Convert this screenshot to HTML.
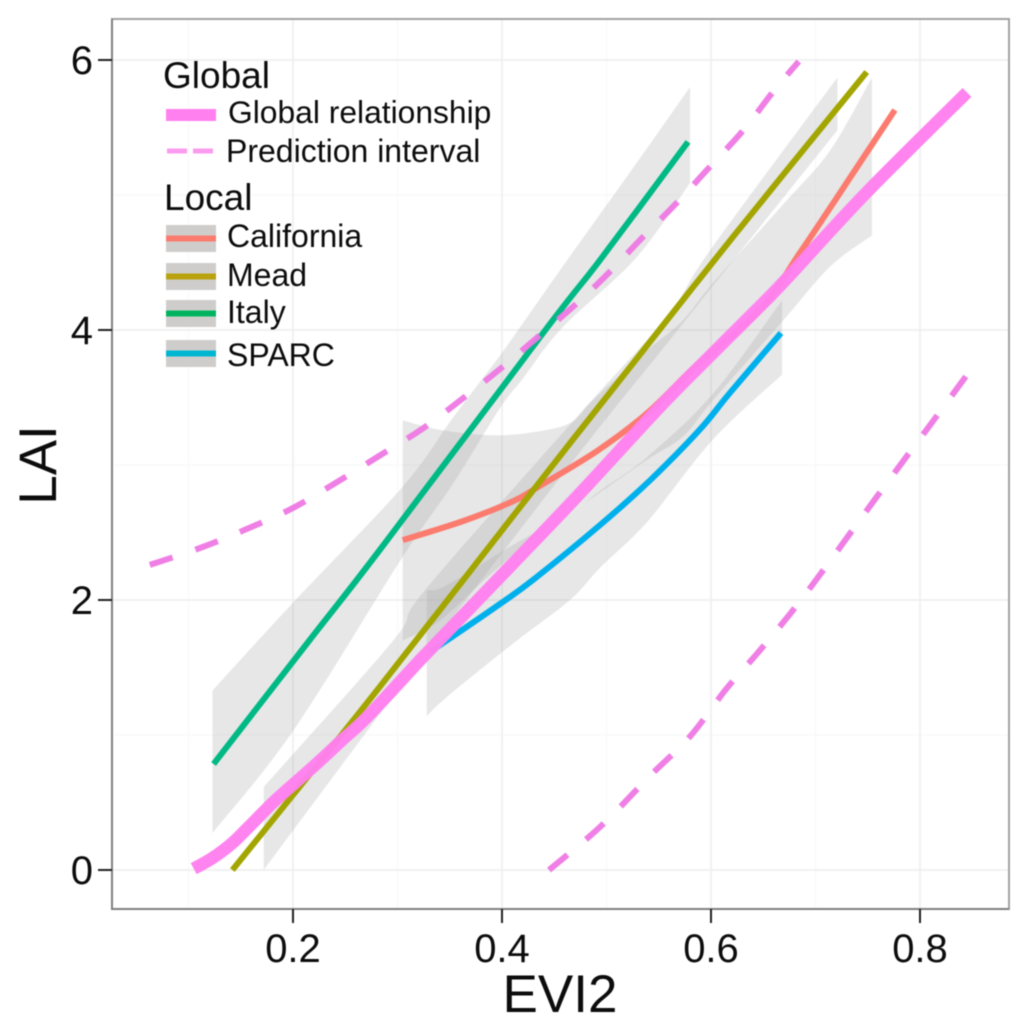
<!DOCTYPE html>
<html>
<head>
<meta charset="utf-8">
<title>LAI vs EVI2</title>
<style>
html,body{margin:0;padding:0;background:#fff;width:1024px;height:1031px;overflow:hidden}
svg{display:block;filter:blur(0.6px)}
text{font-family:"Liberation Sans",Arial,sans-serif;fill:#0c0c0c}
</style>
</head>
<body>
<svg id="chart" xmlns="http://www.w3.org/2000/svg" width="1024" height="1031" viewBox="0 0 1024 1031"></svg>
<script>
const xMajorTicks = [0.2, 0.4, 0.6, 0.8];
const xMinorTicks = [0.1, 0.3, 0.5, 0.7];
const yMajorTicks = [0, 2, 4, 6];
const yMinorTicks = [1, 3, 5];
const xTickLabels = ['0.2', '0.4', '0.6', '0.8'];
const yTickLabels = ['0', '2', '4', '6'];

const globalX = [0.105, 0.123, 0.143, 0.159, 0.181, 0.204, 0.223, 0.248, 0.271, 0.319, 0.328, 0.411, 0.475, 0.551, 0.602, 0.650, 0.673, 0.749, 0.845];
const globalY = [0.01, 0.089, 0.207, 0.33, 0.50, 0.66, 0.79, 0.97, 1.133, 1.533, 1.607, 2.274, 2.793, 3.43, 3.83, 4.2, 4.385, 5.02, 5.76];

const upperX = [0.063, 0.111, 0.154, 0.197, 0.235, 0.283, 0.324, 0.362, 0.398, 0.433, 0.472, 0.503, 0.535, 0.567, 0.599, 0.631, 0.659, 0.684];
const upperY = [2.26, 2.385, 2.52, 2.67, 2.84, 3.07, 3.27, 3.49, 3.71, 3.94, 4.2, 4.43, 4.69, 4.94, 5.21, 5.48, 5.76, 5.99];
const lowerX = [0.445, 0.494, 0.542, 0.58, 0.615, 0.645, 0.676, 0.704, 0.762, 0.81, 0.85];
const lowerY = [0, 0.32, 0.70, 0.99, 1.345, 1.61, 1.90, 2.185, 2.80, 3.3, 3.72];

const meadX = [0.142, 0.2, 0.283, 0.43, 0.5, 0.621, 0.749];
const meadY = [0, 0.556, 1.356, 2.815, 3.504, 4.689, 5.911];
const italyX = [0.124, 0.216, 0.283, 0.443, 0.494, 0.578];
const italyY = [0.785, 1.704, 2.37, 4.015, 4.52, 5.393];
const californiaX = [0.305, 0.363, 0.411, 0.433, 0.491, 0.539, 0.589, 0.647, 0.685, 0.717, 0.776];
const californiaY = [2.444, 2.585, 2.733, 2.83, 3.104, 3.385, 3.76, 4.15, 4.57, 4.94, 5.63];
const sparcX = [0.331, 0.398, 0.4316, 0.494, 0.542, 0.589, 0.618, 0.667];
const sparcY = [1.615, 1.97, 2.16, 2.556, 2.889, 3.26, 3.533, 3.978];

const italyBandX = [0.123, 0.2, 0.305, 0.353, 0.398, 0.42, 0.458, 0.529, 0.58];
const italyBandUpper = [1.33, 1.98, 2.84, 3.35, 3.81, 4.05, 4.47, 5.24, 5.8];
const italyBandLower = [0.274, 1.03, 2.32, 2.86, 3.42, 3.64, 4.02, 4.54, 5.09];
const meadBandX = [0.172, 0.296, 0.326, 0.475, 0.558, 0.599, 0.721];
const meadBandUpper = [0.615, 1.70, 2.07, 3.385, 4.10, 4.59, 5.87];
const meadBandLower = [0, 1.29, 1.6, 3.10, 3.90, 4.30, 5.48];
const californiaBandX = [0.305, 0.341, 0.389, 0.427, 0.465, 0.487, 0.539, 0.573, 0.602, 0.669, 0.714, 0.754];
const californiaBandUpper = [3.33, 3.26, 3.22, 3.24, 3.31, 3.48, 3.85, 4.07, 4.35, 4.93, 5.33, 5.87];
const californiaBandLower = [1.70, 1.85, 2.19, 2.44, 2.64, 2.76, 3.04, 3.21, 3.48, 4.07, 4.47, 4.70];
const sparcBandX = [0.328, 0.347, 0.411, 0.465, 0.494, 0.539, 0.602, 0.668];
const sparcBandUpper = [2.07, 2.11, 2.41, 2.64, 2.81, 3.06, 3.53, 4.22];
const sparcBandLower = [1.14, 1.28, 1.68, 2.0, 2.24, 2.58, 3.19, 3.67];

const svgNS = 'http://www.w3.org/2000/svg';
const svg = document.getElementById('chart');
const xScale = v => 293 + (v - 0.2) * 1045;
const yScale = v => 870 - v * 135;
const panel = { left: 112, right: 1009, top: 19, bottom: 909 };

function make(tag, attrs, parent) {
  const el = document.createElementNS(svgNS, tag);
  for (const k in attrs) el.setAttribute(k, attrs[k]);
  (parent || svg).appendChild(el);
  return el;
}
function smoothSegments(pts) {
  let d = '';
  for (let i = 0; i < pts.length - 1; i++) {
    const p0 = pts[Math.max(i - 1, 0)], p1 = pts[i], p2 = pts[i + 1], p3 = pts[Math.min(i + 2, pts.length - 1)];
    const c1x = p1[0] + (p2[0] - p0[0]) / 6, c1y = p1[1] + (p2[1] - p0[1]) / 6;
    const c2x = p2[0] - (p3[0] - p1[0]) / 6, c2y = p2[1] - (p3[1] - p1[1]) / 6;
    d += ` C${c1x.toFixed(1)} ${c1y.toFixed(1)} ${c2x.toFixed(1)} ${c2y.toFixed(1)} ${p2[0].toFixed(1)} ${p2[1].toFixed(1)}`;
  }
  return d;
}
function pathFrom(xs, ys) {
  const pts = xs.map((x, i) => [xScale(x), yScale(ys[i])]);
  return `M${pts[0][0].toFixed(1)} ${pts[0][1].toFixed(1)}` + smoothSegments(pts);
}
function bandPath(xs, up, lo) {
  const top = xs.map((x, i) => [xScale(x), yScale(up[i])]);
  const bot = xs.map((x, i) => [xScale(x), yScale(lo[i])]).reverse();
  return `M${top[0][0].toFixed(1)} ${top[0][1].toFixed(1)}` + smoothSegments(top) +
    ` L${bot[0][0].toFixed(1)} ${bot[0][1].toFixed(1)}` + smoothSegments(bot) + ' Z';
}

/* panel background and grid */
const bg = make('rect', { x: panel.left, y: panel.top, width: panel.right - panel.left, height: panel.bottom - panel.top, fill: '#ffffff' });



xMinorTicks.forEach(v => {
  const l = make('line', { x1: xScale(v), x2: xScale(v), y1: panel.top, y2: panel.bottom, stroke: '#f8f8f8', 'stroke-width': 1.2 });
  
  
});
yMinorTicks.forEach(v => {
  const l = make('line', { x1: panel.left, x2: panel.right, y1: yScale(v), y2: yScale(v), stroke: '#f8f8f8', 'stroke-width': 1.2 });
  
  
});
xMajorTicks.forEach(v => {
  const l = make('line', { x1: xScale(v), x2: xScale(v), y1: panel.top, y2: panel.bottom, stroke: '#ededed', 'stroke-width': 1.5 });
  
  
});
yMajorTicks.forEach(v => {
  const l = make('line', { x1: panel.left, x2: panel.right, y1: yScale(v), y2: yScale(v), stroke: '#ededed', 'stroke-width': 1.5 });
  
  
});

/* confidence ribbons */
const bandStyle = { fill: '#a8a8a8', 'fill-opacity': 0.27 };
const b1 = make('path', Object.assign({ d: bandPath(californiaBandX, californiaBandUpper, californiaBandLower) }, bandStyle));


const b2 = make('path', Object.assign({ d: bandPath(meadBandX, meadBandUpper, meadBandLower) }, bandStyle));


const b3 = make('path', Object.assign({ d: bandPath(italyBandX, italyBandUpper, italyBandLower) }, bandStyle));


const b4 = make('path', Object.assign({ d: bandPath(sparcBandX, sparcBandUpper, sparcBandLower) }, bandStyle));



/* local fits */
const lineBase = { fill: 'none', 'stroke-linejoin': 'round' };
const l1 = make('path', Object.assign({ d: pathFrom(californiaX, californiaY), stroke: '#fb7b6e', 'stroke-width': 6 }, lineBase));


const l2 = make('path', Object.assign({ d: pathFrom(meadX, meadY), stroke: '#a3a500', 'stroke-width': 6 }, lineBase));


const l3 = make('path', Object.assign({ d: pathFrom(italyX, italyY), stroke: '#00b985', 'stroke-width': 6 }, lineBase));


const l4 = make('path', Object.assign({ d: pathFrom(sparcX, sparcY), stroke: '#00b0ec', 'stroke-width': 6 }, lineBase));



/* global relationship and prediction interval */
const g1 = make('path', Object.assign({ d: pathFrom(globalX, globalY), stroke: '#ff80ee', 'stroke-width': 12.5, 'stroke-opacity': 0.97 }, lineBase));


const dashStyle = { stroke: '#ee78e4', 'stroke-width': 6, 'stroke-dasharray': '24 24', 'stroke-opacity': 0.95 };
const g2 = make('path', Object.assign({ d: pathFrom(upperX, upperY) }, lineBase, dashStyle));


const g3 = make('path', Object.assign({ d: pathFrom(lowerX, lowerY) }, lineBase, dashStyle));



/* panel border */
const frame = make('path', { d: `M${panel.left} ${panel.top} H${panel.right} V${panel.bottom} H${panel.left} Z`, fill: 'none', stroke: '#a2a2a2', 'stroke-width': 2 });


const axisEdge = make('path', { d: `M${panel.left} ${panel.top} V${panel.bottom} H${panel.right}`, fill: 'none', stroke: '#808080', 'stroke-width': 2 });



/* ticks and tick labels */
xMajorTicks.forEach((v, i) => {
  const t = make('line', { x1: xScale(v), x2: xScale(v), y1: panel.bottom, y2: panel.bottom + 14, stroke: '#222', 'stroke-width': 2 });
  
  
  const lab = make('text', { x: xScale(v), y: 962, 'text-anchor': 'middle', 'font-size': 40 });
  lab.textContent = xTickLabels[i];
  
  
});
yMajorTicks.forEach((v, i) => {
  const t = make('line', { x1: panel.left - 14, x2: panel.left, y1: yScale(v), y2: yScale(v), stroke: '#222', 'stroke-width': 2 });
  
  
  const lab = make('text', { x: 93, y: yScale(v) + 14, 'text-anchor': 'end', 'font-size': 40 });
  lab.textContent = yTickLabels[i];
  
  
});

/* axis titles */
const xTitle = make('text', { x: 560, y: 1012, 'text-anchor': 'middle', 'font-size': 53 });
xTitle.textContent = 'EVI2';


const yTitle = make('text', { x: 0, y: 0, 'text-anchor': 'middle', 'font-size': 53, transform: 'translate(56,465) rotate(-90)' });
yTitle.textContent = 'LAI';



/* legend */
const legend = make('g', {});



const titleGlobal = make('text', { x: 163, y: 88, 'font-size': 37 }, legend);
titleGlobal.textContent = 'Global';


const titleLocal = make('text', { x: 164, y: 210, 'font-size': 37 }, legend);
titleLocal.textContent = 'Local';



const keyGlobal = make('rect', { x: 166, y: 109, width: 50, height: 12, fill: '#ff80ee' }, legend);


const labelGlobal = make('text', { x: 228, y: 123, 'font-size': 31.8 }, legend);
labelGlobal.textContent = 'Global relationship';


const keyDash = make('line', { x1: 167, x2: 216, y1: 151, y2: 151, stroke: '#fb9bf0', 'stroke-width': 5, 'stroke-dasharray': '20 6' }, legend);


const labelDash = make('text', { x: 226, y: 162, 'font-size': 32 }, legend);
labelDash.textContent = 'Prediction interval';



const legendNames = ['California', 'Mead', 'Italy', 'SPARC'];
const legendColors = ['#fb7b6e', '#b9a20e', '#00b45f', '#00b6d0'];
const legendKeyTops = [225, 263, 300, 340];
const legendBaselines = [247, 286, 323, 366];
legendNames.forEach((name, i) => {
  const r = make('rect', { x: 166, y: legendKeyTops[i], width: 50, height: 27, fill: '#cfcdcb' }, legend);
  
  
  const ln = make('rect', { x: 166, y: legendKeyTops[i] + 10.5, width: 50, height: 6, fill: legendColors[i] }, legend);
  
  
  const tx = make('text', { x: 227, y: legendBaselines[i], 'font-size': 32 }, legend);
  tx.textContent = name;
  
  
});
</script>
</body>
</html>
